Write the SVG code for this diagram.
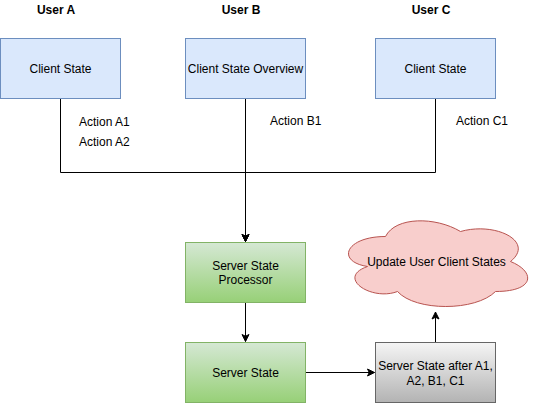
<svg xmlns="http://www.w3.org/2000/svg" width="537" height="404" viewBox="0 0 537 404">
<style>
text{font-family:"Liberation Sans",Arial,sans-serif;font-size:12px;fill:#000;}
.c{text-anchor:middle;}
.b{font-weight:bold;}
.blue{fill:#dae8fc;stroke:#6c8ebf;stroke-width:1;}
.green{fill:url(#gg);stroke:#82b366;stroke-width:1;}
.gray{fill:url(#gr);stroke:#666666;stroke-width:1;}
.cloud{fill:#f8cecc;stroke:#b85450;stroke-width:1;}
.edge{fill:none;stroke:#000;stroke-width:1;}
.arr{marker-end:url(#ah);}
</style>
<defs>
<linearGradient id="gg" x1="0" y1="0" x2="0" y2="1"><stop offset="0" stop-color="#d5e8d4"/><stop offset="1" stop-color="#97d077"/></linearGradient>
<linearGradient id="gr" x1="0" y1="0" x2="0" y2="1"><stop offset="0" stop-color="#f5f5f5"/><stop offset="1" stop-color="#b3b3b3"/></linearGradient>
<marker id="ah" viewBox="-8 -5 10 10" markerWidth="10" markerHeight="10" refX="0" refY="0" orient="auto" markerUnits="userSpaceOnUse"><path d="M0,0 L-7,-3.5 L-5.25,0 L-7,3.5 Z" fill="#000" stroke="#000" stroke-width="1"/></marker>
</defs>
<g id="labels">
<text class="c b" x="56" y="14">User A</text>
<text class="c b" x="241" y="14">User B</text>
<text class="c b" x="431" y="14">User C</text>
<text x="79" y="126">Action A1</text>
<text x="79" y="146">Action A2</text>
<text x="270" y="124.5">Action B1</text>
<text x="456" y="124.5">Action C1</text>
</g>
<g id="connectors">
<path class="edge arr" d="M60.5,98.5 V172.5 H245.5 V241.5"/>
<path class="edge arr" d="M245.5,98.5 V241.5"/>
<path class="edge arr" d="M435.5,98.5 V172.5 H245.5 V241.5"/>
<path class="edge arr" d="M245.5,302.5 V341.5"/>
<path class="edge arr" d="M305.5,372.5 H374.5"/>
<path class="edge arr" d="M435.5,342.5 V312"/>
</g>
<g id="clientA"><rect class="blue" x="0.5" y="38.5" width="120" height="60"/><text class="c" x="60.5" y="72.5">Client State</text></g>
<g id="clientB"><rect class="blue" x="185.5" y="38.5" width="120" height="60"/><text class="c" x="245.5" y="72.5">Client State Overview</text></g>
<g id="clientC"><rect class="blue" x="375.5" y="38.5" width="120" height="60"/><text class="c" x="435.5" y="72.5">Client State</text></g>
<g id="processor"><rect class="green" x="185.5" y="242.5" width="120" height="60"/><text class="c" x="245.5" y="270">Server State</text><text class="c" x="245.5" y="284">Processor</text></g>
<g id="serverState"><rect class="green" x="185.5" y="342.5" width="120" height="60"/><text class="c" x="245.5" y="376.5">Server State</text></g>
<g id="serverAfter"><rect class="gray" x="375.5" y="342.5" width="120" height="60"/><text class="c" x="435.5" y="370">Server State after A1,</text><text class="c" x="435.5" y="384.5">A2, B1, C1</text></g>
<g id="cloud"><path class="cloud" d="M385.5,236.5 C345.5,236.5 335.5,261.5 367.5,266.5 C335.5,277.5 371.5,301.5 397.5,291.5 C415.5,311.5 475.5,311.5 495.5,291.5 C535.5,291.5 535.5,271.5 510.5,261.5 C535.5,241.5 495.5,221.5 460.5,231.5 C435.5,216.5 395.5,216.5 385.5,236.5 Z"/><text class="c" x="436.5" y="266">Update User Client States</text></g>
</svg>
